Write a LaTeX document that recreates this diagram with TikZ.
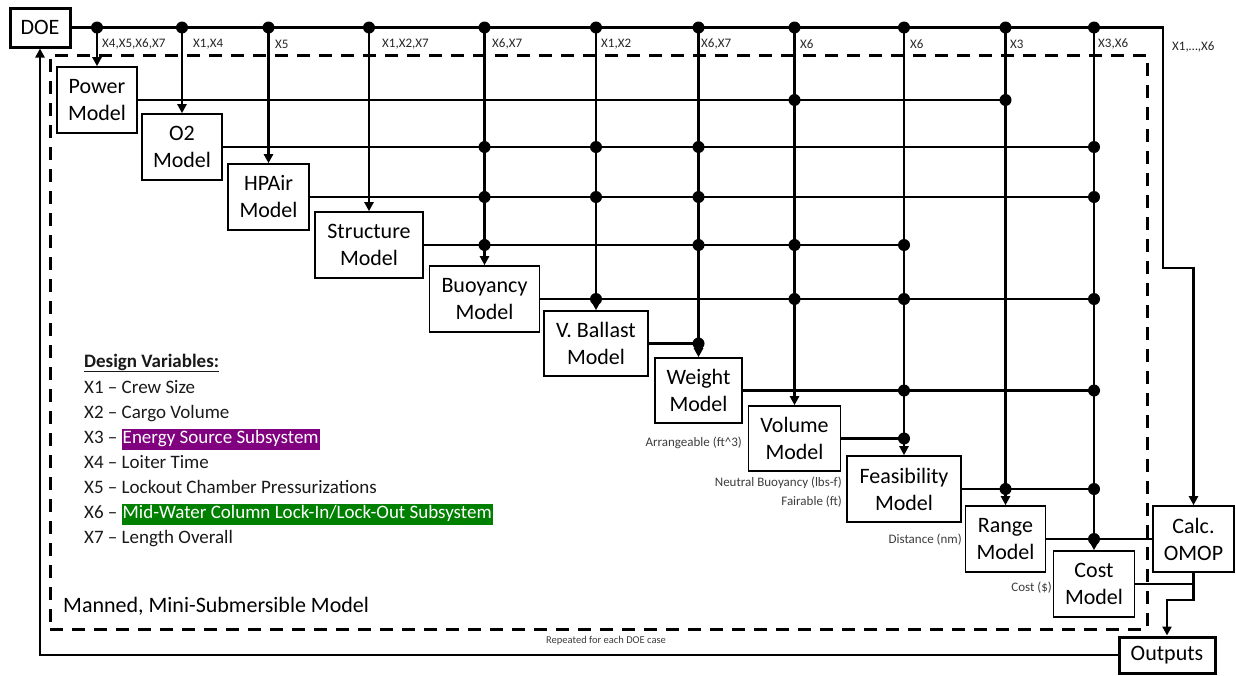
\documentclass[tikz,border=0pt]{standalone}
\usepackage{fontspec}
\setmainfont{Carlito}
\usetikzlibrary{arrows.meta,calc}
\definecolor{hlpurple}{RGB}{128,0,128}
\definecolor{hlgreen}{RGB}{0,128,0}
\definecolor{lblgray}{RGB}{60,60,60}
\newcommand{\hlt}[2]{{\setlength{\fboxsep}{1pt}\colorbox{#1}{\textcolor{white}{\rule[-6pt]{0pt}{18.5pt}#2}}}}
\begin{document}
\begin{tikzpicture}[x=1pt,y=-1pt,
  box/.style={draw, line width=1.6pt, align=center, inner sep=0pt, font=\fontsize{22}{27}\selectfont},
  thickbox/.style={box, line width=3pt},
  wire/.style={line width=2.6pt},
  arr/.style={wire, -{Triangle[length=9pt,width=9pt]}},
  vlab/.style={font=\fontsize{13}{15}\selectfont, anchor=west, inner sep=0pt, text=black!85},
  slab/.style={font=\fontsize{13}{15}\selectfont, anchor=east, inner sep=0pt, text=lblgray},
  leg/.style={font=\fontsize{19}{23}\selectfont, anchor=base west, inner sep=0pt, text=black!90}]
\useasboundingbox (0,0) rectangle (1236,675);

% dashed frame
\node[draw, line width=3pt, dash pattern=on 13pt off 9pt, minimum width=1097pt, minimum height=574pt, inner sep=0pt] (frame) at (598.5,342) {};

% boxes
\node[thickbox, minimum width=60pt, minimum height=39pt] (doe) at (40,27.5) {DOE};
\node[box, minimum width=80pt, minimum height=66pt] (pow) at (97,100) {Power\\Model};
\node[box, minimum width=80pt, minimum height=66pt] (o2) at (182,147) {O2\\Model};
\node[box, minimum width=81pt, minimum height=66pt] (hpa) at (268.5,197) {HPAir\\Model};
\node[box, minimum width=108pt, minimum height=66pt] (str) at (369,245) {Structure\\Model};
\node[box, minimum width=110pt, minimum height=66pt] (buo) at (484.5,299) {Buoyancy\\Model};
\node[box, minimum width=104pt, minimum height=65pt] (vb) at (596,343.5) {V. Ballast\\Model};
\node[box, minimum width=87pt, minimum height=65pt] (wgt) at (698.5,390.5) {Weight\\Model};
\node[box, minimum width=92pt, minimum height=65pt] (vol) at (794.5,438.5) {Volume\\Model};
\node[box, minimum width=114pt, minimum height=66pt] (fea) at (904,489) {Feasibility\\Model};
\node[box, minimum width=80pt, minimum height=66pt] (rng) at (1005.5,539) {Range\\Model};
\node[box, minimum width=81pt, minimum height=66pt] (cst) at (1094,584) {Cost\\Model};
\node[box, minimum width=81pt, minimum height=66pt] (calc) at (1193.5,539) {Calc.\\OMOP};
\node[thickbox, minimum width=96pt, minimum height=36pt] (out) at (1167,655) {Outputs};

% DOE bus to calc
\coordinate (busend) at (1163,27.5);
\coordinate (bend) at (1163,268);
\draw[arr] (doe.east) -- (busend) -- (bend) -| (calc.north);
\node[vlab] at (1172,47) {X1,…,X6};

% input columns
\foreach \b in {pow,o2,hpa,str,buo,vb,wgt,vol,fea,rng,cst} {
  \draw[arr] (doe.east -| \b.north) -- (\b.north);
  \fill (doe.east -| \b.north) circle (6pt);
}
\node[vlab] at (102,44) {X4,X5,X6,X7};
\node[vlab] at (193,44) {X1,X4};
\node[vlab] at (275,44) {X5};
\node[vlab] at (382,44) {X1,X2,X7};
\node[vlab] at (492,44) {X6,X7};
\node[vlab] at (601,44) {X1,X2};
\node[vlab] at (701,44) {X6,X7};
\node[vlab] at (800,44) {X6};
\node[vlab] at (910,44) {X6};
\node[vlab] at (1010,44) {X3};
\node[vlab] at (1098,44) {X3,X6};

% model outputs
\draw[wire] (pow.east) -- (pow.east -| rng.north);
\foreach \c in {vol,rng} \fill (pow.east -| \c.north) circle (6pt);
\draw[wire] (o2.east) -- (o2.east -| cst.north);
\foreach \c in {buo,vb,wgt,cst} \fill (o2.east -| \c.north) circle (6pt);
\draw[wire] (hpa.east) -- (hpa.east -| cst.north);
\foreach \c in {buo,vb,wgt,cst} \fill (hpa.east -| \c.north) circle (6pt);
\draw[wire] (str.east) -- (str.east -| fea.north);
\foreach \c in {buo,wgt,vol,fea} \fill (str.east -| \c.north) circle (6pt);
\draw[wire] (buo.east) -- (buo.east -| cst.north);
\foreach \c in {vb,vol,fea,cst} \fill (buo.east -| \c.north) circle (6pt);
\draw[wire] (vb.east) -- (vb.east -| wgt.north);
\fill (vb.east -| wgt.north) circle (6pt);
\draw[wire] (wgt.east) -- (wgt.east -| cst.north);
\foreach \c in {fea,cst} \fill (wgt.east -| \c.north) circle (6pt);
\draw[wire] (vol.east) -- (vol.east -| fea.north);
\fill (vol.east -| fea.north) circle (6pt);
\draw[wire] (fea.east) -- (fea.east -| cst.north);
\foreach \c in {rng,cst} \fill (fea.east -| \c.north) circle (6pt);
\draw[wire] (rng.east) -- (calc.west);
\fill (rng.east -| cst.north) circle (6pt);
\draw[wire] (cst.east) -- (cst.east -| calc.south);
\coordinate (jn) at (1193.5,600);
\draw[arr] (calc.south) -- (calc.south |- jn) -| (out.north);

% feedback
\draw[arr] (out.west) -| (doe.south);

% small labels
\node[slab] at (742,443) {Arrangeable (ft\textasciicircum 3)};
\node[slab] at (842,483) {Neutral Buoyancy (lbs-f)};
\node[slab] at (842,502) {Fairable (ft)};
\node[slab] at (962,540) {Distance (nm)};
\node[slab] at (1052,588) {Cost (\$)};
\node[font=\fontsize{10.5}{12}\selectfont, anchor=west, inner sep=0pt, text=lblgray] at (546,641) {Repeated for each DOE case};

% legend
\node[leg] at (84,367) {\underline{\textbf{Design Variables:}}};
\node[leg] at (84,393) {X1 – Crew Size};
\node[leg] at (84,418) {X2 – Cargo Volume};
\node[leg] at (84,443) {X3 – \hlt{hlpurple}{Energy Source Subsystem}};
\node[leg] at (84,468) {X4 – Loiter Time};
\node[leg] at (84,493) {X5 – Lockout Chamber Pressurizations};
\node[leg] at (84,518) {X6 – \hlt{hlgreen}{Mid-Water Column Lock-In/Lock-Out Subsystem}};
\node[leg] at (84,543) {X7 – Length Overall};
\node[font=\fontsize{22}{26}\selectfont, anchor=base west, inner sep=0pt] at (63,612) {Manned, Mini-Submersible Model};
\end{tikzpicture}
\end{document}
